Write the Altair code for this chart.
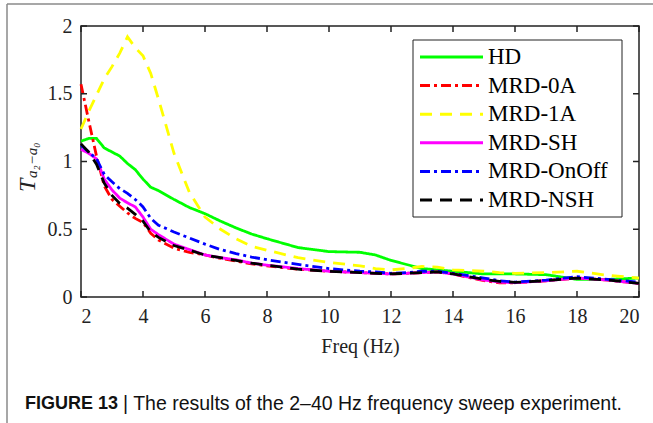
import altair as alt
import pandas as pd

names = ["HD", "MRD-0A", "MRD-1A", "MRD-SH", "MRD-OnOff", "MRD-NSH"]

freq = [2, 2.25, 2.5, 2.75, 3, 3.25, 3.5, 3.75, 4, 4.25, 4.5, 5, 5.5, 6, 6.5, 7,
        7.5, 8, 9, 10, 11, 11.5, 12, 12.5, 13, 13.5, 14, 15, 15.5, 16, 17, 18, 19, 20]

hd = [1.15, 1.17, 1.17, 1.10, 1.07, 1.04, 0.985, 0.94, 0.87, 0.81, 0.785, 0.72, 0.66,
      0.615, 0.56, 0.51, 0.465, 0.43, 0.365, 0.335, 0.33, 0.31, 0.27, 0.24, 0.21, 0.20,
      0.19, 0.17, 0.17, 0.17, 0.165, 0.13, 0.13, 0.14]
mrd_0a = [1.57, 1.30, 1.04, 0.82, 0.72, 0.67, 0.62, 0.58, 0.55, 0.47, 0.42, 0.36, 0.33,
          0.31, 0.285, 0.265, 0.245, 0.23, 0.205, 0.19, 0.18, 0.175, 0.17, 0.175, 0.18,
          0.185, 0.17, 0.12, 0.105, 0.105, 0.12, 0.14, 0.125, 0.10]
mrd_1a = [1.24, 1.37, 1.49, 1.61, 1.70, 1.80, 1.92, 1.84, 1.78, 1.65, 1.46, 1.06, 0.77,
          0.59, 0.50, 0.43, 0.375, 0.345, 0.29, 0.255, 0.23, 0.21, 0.20, 0.21, 0.225,
          0.22, 0.20, 0.19, 0.18, 0.175, 0.18, 0.19, 0.16, 0.14]
mrd_sh = [1.09, 1.06, 1.02, 0.87, 0.79, 0.73, 0.695, 0.665, 0.59, 0.50, 0.46, 0.39, 0.35,
          0.31, 0.29, 0.275, 0.25, 0.235, 0.21, 0.19, 0.18, 0.175, 0.17, 0.175, 0.18,
          0.185, 0.17, 0.125, 0.11, 0.105, 0.12, 0.14, 0.125, 0.10]
mrd_onoff = [1.12, 1.07, 1.02, 0.905, 0.85, 0.80, 0.765, 0.72, 0.665, 0.58, 0.53, 0.48,
             0.435, 0.39, 0.35, 0.32, 0.295, 0.275, 0.24, 0.21, 0.19, 0.185, 0.175, 0.18,
             0.19, 0.19, 0.175, 0.14, 0.12, 0.11, 0.125, 0.15, 0.13, 0.11]
mrd_nsh = [1.13, 1.07, 0.98, 0.84, 0.75, 0.69, 0.655, 0.61, 0.56, 0.48, 0.44, 0.38, 0.345,
           0.31, 0.29, 0.27, 0.25, 0.235, 0.205, 0.19, 0.18, 0.175, 0.17, 0.175, 0.18,
           0.185, 0.17, 0.13, 0.115, 0.108, 0.12, 0.14, 0.125, 0.10]

x_ticks = [2, 4, 6, 8, 10, 12, 14, 16, 18, 20]
y_ticks = [0, 0.5, 1, 1.5, 2]

colors = ["#00ff00", "#ff0000", "#ffff00", "#ff00ff", "#0000ff", "#000000"]
dashes = [[1, 0], [10, 4, 3, 4], [12, 8], [1, 0], [10, 4, 3, 4], [12, 8]]

series_vals = [hd, mrd_0a, mrd_1a, mrd_sh, mrd_onoff, mrd_nsh]
rows = []
for n, vals in zip(names, series_vals):
    for f, v in zip(freq, vals):
        rows.append({"series": n, "freq": f, "value": v})
df = pd.DataFrame(rows)
xt_df = pd.DataFrame({"t": x_ticks})
yt_df = pd.DataFrame({"t": y_ticks})

W, H = 558, 271
SERIF = "Liberation Serif"
AX = "#222222"

color_scale = alt.Scale(domain=names, range=colors)
dash_scale = alt.Scale(domain=names, range=dashes)
xs = alt.Scale(domain=[2, 20], nice=False, zero=False)
ys = alt.Scale(domain=[0, 2], nice=False)

x_main = alt.Axis(orient="bottom", values=x_ticks, ticks=False, tickSize=0, labelPadding=9,
                  labelFont=SERIF, labelFontSize=20, labelColor=AX, grid=False, domain=False,
                  title="Freq (Hz)", titleFont=SERIF, titleFontSize=20, titleFontWeight="normal",
                  titleColor=AX, titlePadding=10)
y_main = alt.Axis(orient="left", values=y_ticks, ticks=False, tickSize=0, labelPadding=9,
                  labelFont=SERIF, labelFontSize=20, labelColor=AX, grid=False, domain=False,
                  format="~g", title=None)

layers = []
for i, n in enumerate(names):
    layers.append(
        alt.Chart(df).transform_filter(alt.datum.series == n)
        .mark_line(strokeWidth=2.8, strokeCap="butt")
        .encode(
            x=alt.X("freq:Q", scale=xs, axis=x_main if i == 0 else None),
            y=alt.Y("value:Q", scale=ys, axis=y_main if i == 0 else None),
            color=alt.Color("series:N", scale=color_scale, legend=None),
            strokeDash=alt.StrokeDash("series:N", scale=dash_scale, legend=None),
        )
    )

tick_kw = dict(color=AX, strokeWidth=1.5)
xt_bottom = alt.Chart(xt_df).mark_rule(**tick_kw).encode(
    x=alt.X("t:Q", scale=xs, axis=None), y=alt.value(H), y2=alt.value(H - 6))
xt_top = alt.Chart(xt_df).mark_rule(**tick_kw).encode(
    x=alt.X("t:Q", scale=xs, axis=None), y=alt.value(0), y2=alt.value(6))
yt_left = alt.Chart(yt_df).mark_rule(**tick_kw).encode(
    y=alt.Y("t:Q", scale=ys, axis=None), x=alt.value(0), x2=alt.value(6))
yt_right = alt.Chart(yt_df).mark_rule(**tick_kw).encode(
    y=alt.Y("t:Q", scale=ys, axis=None), x=alt.value(W - 6), x2=alt.value(W))

one = pd.DataFrame({"a": [0]})
leg_df = pd.DataFrame({"series": names})
leg_y = alt.Y("series:N", scale=alt.Scale(type="point", domain=names, range=[31, 174], padding=0), axis=None)

legend_box = alt.Chart(one).mark_rect(fill="white", stroke=AX, strokeWidth=1).encode(
    x=alt.value(332), x2=alt.value(541), y=alt.value(14), y2=alt.value(191))
legend_sym = alt.Chart(leg_df).mark_rule(strokeWidth=3, strokeCap="butt").encode(
    x=alt.value(339), x2=alt.value(402), y=leg_y,
    color=alt.Color("series:N", scale=color_scale, legend=None),
    strokeDash=alt.StrokeDash("series:N", scale=dash_scale, legend=None))
legend_txt = alt.Chart(leg_df).mark_text(align="left", baseline="middle", font=SERIF,
                                         fontSize=23, color="black").encode(
    x=alt.value(407), y=leg_y, text="series:N")

ytitle_T = alt.Chart(one).mark_text(angle=270, align="left", baseline="alphabetic", font=SERIF,
                                    fontStyle="italic", fontSize=24, color=AX).encode(
    x=alt.value(-46), y=alt.value(166), text=alt.value("T"))
ytitle_sub = alt.Chart(one).mark_text(angle=270, align="left", baseline="alphabetic", font=SERIF,
                                      fontStyle="italic", fontSize=15, color=AX).encode(
    x=alt.value(-44), y=alt.value(152), text=alt.value("a₂−a₀"))

cap_bold = alt.Chart(one).mark_text(align="left", baseline="middle", font="Liberation Sans",
                                    fontWeight="bold", fontSize=18, color="#111").encode(
    x=alt.value(-56), y=alt.value(378), text=alt.value("FIGURE 13"))
cap_rest = alt.Chart(one).mark_text(align="left", baseline="middle", font="Liberation Sans",
                                    fontSize=19.5, color="#111").encode(
    x=alt.value(42), y=alt.value(378),
    text=alt.value("| The results of the 2–40 Hz frequency sweep experiment."))

border_top = alt.Chart(one).mark_rule(color="#8a8a8a", strokeWidth=1.5).encode(
    x=alt.value(-74), x2=alt.value(572), y=alt.value(-22))
border_left = alt.Chart(one).mark_rule(color="#8a8a8a", strokeWidth=1.5).encode(
    x=alt.value(-74), y=alt.value(-22), y2=alt.value(397))

chart = alt.layer(
    *layers, xt_bottom, xt_top, yt_left, yt_right,
    legend_box, legend_sym, legend_txt, ytitle_T, ytitle_sub,
    cap_bold, cap_rest, border_top, border_left
).resolve_scale(y="independent").resolve_axis(x="independent", y="independent").properties(
    width=W, height=H,
    autosize=alt.AutoSizeParams(type="none"),
    padding={"left": 81, "top": 26, "right": 14, "bottom": 126},
    background="white",
).configure_view(stroke=AX, strokeWidth=1.5).configure_axis(labelFont=SERIF, titleFont=SERIF)

chart.save("out.html", embed_options={"renderer": "svg", "actions": False})
